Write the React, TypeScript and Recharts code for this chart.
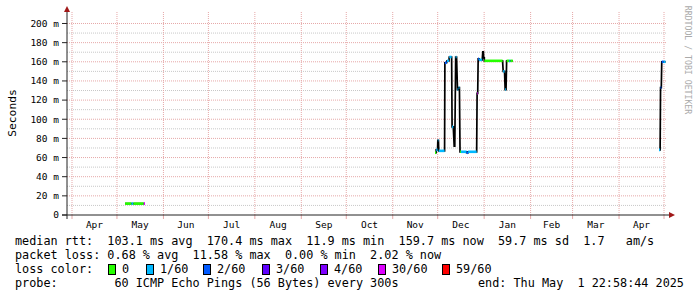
import React from "react";
import { ComposedChart, Line, XAxis, YAxis, CartesianGrid } from "recharts";

// days counted from Apr 1 2024
const MONTH_STARTS = [0, 30, 61, 91, 122, 153, 183, 214, 244, 275, 306, 334, 365, 395];
const MONTH_LABELS = ["Apr", "May", "Jun", "Jul", "Aug", "Sep", "Oct", "Nov", "Dec", "Jan", "Feb", "Mar", "Apr"];
const Y_TICKS = [0, 20, 40, 60, 80, 100, 120, 140, 160, 180, 200];
const Y_MINOR = [10, 30, 50, 70, 90, 110, 130, 150, 170, 190];

// median rtt segments (ms); loss index into LOSS_COLORS, -1 = no loss colour
const SEG_START = [
  35.4, 39.7, 41.0, 47.9,
  242.2, 243.0, 244.1, 244.7, 248.8, 250.2, 251.7, 253.6, 255.0, 256.0, 257.2, 258.0,
  258.9, 259.5, 263.3, 264.3, 270.3, 271.0, 271.6, 274.1, 274.7, 275.1, 287.7, 289.0,
  290.0, 291.7, 292.6,
  391.7, 392.7, 393.5, 394.7,
];
const SEG_END = [
  39.7, 41.0, 47.9, 48.7,
  243.0, 243.9, 244.5, 248.6, 250.0, 251.5, 253.3, 254.4, 255.4, 256.6, 257.7, 258.5,
  259.5, 263.3, 264.3, 270.0, 270.7, 271.6, 273.7, 274.5, 275.1, 287.3, 288.6, 289.6,
  291.7, 292.6, 294.1,
  392.4, 393.2, 394.7, 396.0,
];
const SEG_RTT = [
  11.9, 11.9, 11.9, 11.9,
  65, 68, 78, 67, 159, 161, 165, 92, 72, 165, 131, 133,
  66, 66, 65, 66, 127, 163, 162, 170.4, 164, 161, 150, 131,
  161, 161, 161,
  68, 133, 160, 160,
];
const SEG_LOSS = [
  0, 1, 0, 5,
  0, 1, 1, 1, 2, 1, 1, 1, -1, 1, 1, 1,
  0, 1, 2, 1, 5, 2, 1, -1, -1, 0, 1, 1,
  0, 1, 0,
  1, 2, 2, 1,
];

const LOSS_COLORS = ["#26ff00", "#00b8ff", "#0059ff", "#5e00ff", "#7e00ff", "#dd00ff", "#ff0000"];
const LOSS_LABELS = ["0", "1/60", "2/60", "3/60", "4/60", "30/60", "59/60"];
const LOSS_X = [108, 146, 203, 262, 320, 378, 442];

const STAT_LINES = [
  "median rtt:  103.1 ms avg  170.4 ms max  11.9 ms min  159.7 ms now  59.7 ms sd  1.7   am/s",
  "packet loss: 0.68 % avg  11.58 % max  0.00 % min  2.02 % now",
];
const PROBE = "probe:        60 ICMP Echo Pings (56 Bytes) every 300s";
const END_TEXT = "end: Thu May  1 22:58:44 2025";

const MONO = "'DejaVu Sans Mono', monospace";

const mids = MONTH_STARTS.slice(0, -1).map((s, i) => (s + MONTH_STARTS[i + 1]) / 2);
const xTicks = [...MONTH_STARTS, ...mids].sort((a, b) => a - b);

// black median line through all segments, broken over the data gaps
const medianData: { day: number; rtt: number | null }[] = [];
SEG_START.forEach((s, i) => {
  if (i > 0 && s - SEG_END[i - 1] > 5) {
    medianData.push({ day: (s + SEG_END[i - 1]) / 2, rtt: null });
  }
  medianData.push({ day: s, rtt: SEG_RTT[i] });
  medianData.push({ day: SEG_END[i], rtt: SEG_RTT[i] });
});

const MonthTick = (props: any) => {
  const { x, y, payload } = props;
  const v = payload.value;
  const mi = mids.indexOf(v);
  if (mi >= 0) {
    return (
      <text x={x} y={y + 10} dy="0.35em" textAnchor="middle" fontFamily={MONO} fontSize={9.5} fill="#000">
        {MONTH_LABELS[mi]}
      </text>
    );
  }
  return <line x1={x} x2={x} y1={y} y2={y + 4} stroke="#e6a8a8" strokeWidth={1} />;
};

export default function App() {
  return (
    <div
      style={{
        position: "fixed",
        left: 0,
        top: 0,
        width: 697,
        height: 297,
        background: "#fff",
        fontFamily: MONO,
        color: "#000",
      }}
    >
      <ComposedChart width={697} height={232} margin={{ top: 12, right: 30, left: 0, bottom: 0 }}>
        <CartesianGrid
          horizontalValues={Y_MINOR}
          vertical={false}
          stroke="#c8c8c8"
          strokeDasharray="1 1"
        />
        <CartesianGrid
          horizontalValues={Y_TICKS.slice(1)}
          verticalValues={MONTH_STARTS}
          stroke="#e6a8a8"
          strokeDasharray="1 1"
        />
        <XAxis
          dataKey="day"
          type="number"
          domain={[-3.34, 397.0]}
          allowDataOverflow
          ticks={xTicks}
          interval={0}
          tick={<MonthTick />}
          tickLine={false}
          axisLine={false}
          tickSize={0}
          tickMargin={0}
          height={17}
        />
        <YAxis
          type="number"
          domain={[0, 212]}
          allowDataOverflow
          ticks={Y_TICKS}
          interval={0}
          width={67}
          axisLine={false}
          tickLine={{ stroke: "#222" }}
          tickSize={5}
          tickMargin={3}
          tick={{ fontFamily: MONO, fontSize: 9.5, fill: "#000" }}
          tickFormatter={(v: number) => (v === 0 ? "0" : `${v} m`)}
        />
        <Line
          data={medianData}
          dataKey="rtt"
          type="linear"
          stroke="#000"
          strokeWidth={1.7}
          dot={false}
          connectNulls={false}
          isAnimationActive={false}
        />
        {SEG_START.map((s, i) =>
          SEG_LOSS[i] < 0 ? null : (
            <Line
              key={`seg-${i}`}
              data={[
                { day: s, rtt: SEG_RTT[i] },
                { day: SEG_END[i], rtt: SEG_RTT[i] },
              ]}
              dataKey="rtt"
              type="linear"
              stroke={LOSS_COLORS[SEG_LOSS[i]]}
              strokeWidth={2.6}
              dot={false}
              isAnimationActive={false}
            />
          )
        )}
      </ComposedChart>

      {/* axes with arrows */}
      <svg width={697} height={232} style={{ position: "absolute", left: 0, top: 0, pointerEvents: "none" }}>
        <line x1={67} x2={67} y1={219} y2={11} stroke="#222" strokeWidth={1} />
        <line x1={62} x2={670} y1={215} y2={215} stroke="#222" strokeWidth={1} />
        <polygon points="64,12 70,12 67,6" fill="#a01818" />
        <polygon points="669,212 669,218 675,215" fill="#a01818" />
      </svg>

      <div
        style={{
          position: "absolute",
          left: 2,
          top: 113,
          width: 20,
          height: 0,
          transform: "translate(0,0)",
        }}
      >
        <div
          style={{
            position: "absolute",
            left: 10,
            top: 0,
            transform: "translate(-50%,-50%) rotate(-90deg)",
            fontSize: 11.3,
            whiteSpace: "pre",
          }}
        >
          Seconds
        </div>
      </div>

      <div
        style={{
          position: "absolute",
          left: 688,
          top: 60,
          transform: "translate(-50%,-50%) rotate(90deg)",
          fontSize: 8.2,
          color: "#aaa",
          whiteSpace: "pre",
        }}
      >
        RRDTOOL / TOBI OETIKER
      </div>

      {STAT_LINES.map((t, i) => (
        <div
          key={t}
          style={{ position: "absolute", left: 15, top: 234 + i * 14, fontSize: 11.8, lineHeight: "14px", whiteSpace: "pre" }}
        >
          {t}
        </div>
      ))}
      <div style={{ position: "absolute", left: 15, top: 262, fontSize: 11.8, lineHeight: "14px", whiteSpace: "pre" }}>
        loss color:
      </div>
      {LOSS_LABELS.map((lab, i) => (
        <React.Fragment key={lab}>
          <div
            style={{
              position: "absolute",
              left: LOSS_X[i],
              top: 264,
              width: 6,
              height: 9,
              background: LOSS_COLORS[i],
              border: "1px solid #000",
            }}
          />
          <div
            style={{
              position: "absolute",
              left: LOSS_X[i] + 14,
              top: 262,
              fontSize: 11.8,
              lineHeight: "14px",
              whiteSpace: "pre",
            }}
          >
            {lab}
          </div>
        </React.Fragment>
      ))}
      <div style={{ position: "absolute", left: 15, top: 276, fontSize: 11.8, lineHeight: "14px", whiteSpace: "pre" }}>
        {PROBE}
      </div>
      <div style={{ position: "absolute", left: 478, top: 276, fontSize: 11.8, lineHeight: "14px", whiteSpace: "pre" }}>
        {END_TEXT}
      </div>
    </div>
  );
}
